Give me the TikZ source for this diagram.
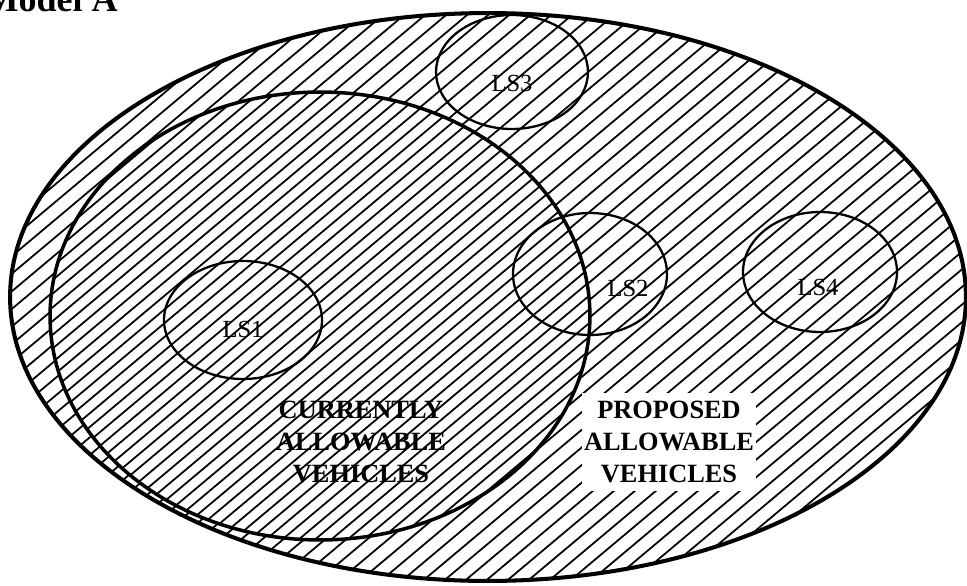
\documentclass[tikz,border=0pt]{standalone}
\usepackage{fontspec}
\setmainfont{Liberation Serif}
\usetikzlibrary{shapes.geometric}

\begin{document}
\begin{tikzpicture}[x=0.02cm, y=-0.02cm,
      hatch/.style={path picture={
        \foreach \k in {-60,...,60}
          \draw[line width=1pt] (path picture bounding box.center)
            ++({-\k*#1*sin(40)-12cm*cos(40)},{\k*#1*cos(40)-12cm*sin(40)}) -- ++({24cm*cos(40)},{24cm*sin(40)});
      }},
      region/.style={draw, ellipse, inner sep=0pt, outer sep=0pt},
      site/.style={draw, ellipse, inner sep=0pt, line width=1.3pt},
      sitelabel/.style={inner sep=0pt, font=\fontsize{14}{16}\selectfont},
      setlabel/.style={align=center, inner sep=0pt, font=\bfseries\fontsize{15}{18}\selectfont}
    ]
    \useasboundingbox (0,0) rectangle (967,585);

    \node[region, line width=2.3pt, hatch=0.27cm, minimum width=19.12cm, minimum height=11.36cm] (proposed) at (488,297) {};
    \node[region, line width=2pt, fill=white, hatch=0.21cm, minimum width=10.8cm, minimum height=8.96cm] (current) at (320,316) {};

    \node[site, minimum width=3.16cm, minimum height=2.36cm] (ls1) at (243,320) {};
    \node[site, minimum width=3.08cm, minimum height=2.44cm] (ls2) at (590,274) {};
    \node[site, minimum width=3.04cm, minimum height=2.28cm] (ls3) at (512,72) {};
    \node[site, minimum width=3.08cm, minimum height=2.4cm] (ls4) at (820,272) {};

    \node[sitelabel] (ls1text) at (243,329) {LS1};
    \node[sitelabel] (ls2text) at (628,288) {LS2};
    \node[sitelabel] (ls3text) at (512,83) {LS3};
    \node[sitelabel] (ls4text) at (818,287) {LS4};

    \node[setlabel] (currenttext) at (361,442) {CURRENTLY\\ALLOWABLE\\VEHICLES};
    \node[setlabel, fill=white, minimum width=3.48cm, minimum height=1.96cm] (proposedtext) at (669,442) {PROPOSED\\ALLOWABLE\\VEHICLES};

    \node[anchor=base east, inner sep=0pt, font=\bfseries\fontsize{20.5}{24}\selectfont] (title) at (118,11) {Model A};
  \end{tikzpicture}
\end{document}
